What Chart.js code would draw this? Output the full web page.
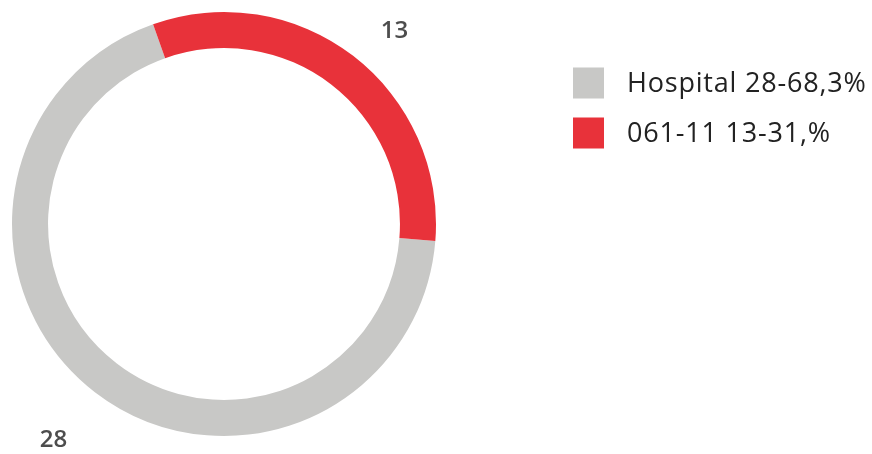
<!DOCTYPE html>
<html>
<head>
<meta charset="utf-8">
<script src="https://cdn.jsdelivr.net/npm/chart.js@4"></script>
<style>
  html, body { margin: 0; padding: 0; background: #ffffff; }
  #wrap { width: 872px; height: 454px; position: relative; }
</style>
</head>
<body>
<div id="wrap"><canvas id="chart" width="872" height="454"></canvas></div>
<script>
// Calls by origin
const categories = ['Hospital', '061-11'];
const counts = [28, 13];
const legendLabels = ['Hospital 28-68,3%', '061-11 13-31,%'];
const sliceColors = ['#c8c8c6', '#e8323a'];

// Value labels placed outside the ring, along each slice's middle angle
const outerLabels = {
  id: 'outerLabels',
  afterDatasetsDraw(chart) {
    const ctx = chart.ctx;
    const meta = chart.getDatasetMeta(0);
    ctx.save();
    ctx.font = '600 24px "Open Sans", sans-serif';
    ctx.fillStyle = '#4d4d4d';
    ctx.textAlign = 'center';
    ctx.textBaseline = 'middle';
    meta.data.forEach((arc, i) => {
      const p = arc.getProps(['x', 'y', 'startAngle', 'endAngle', 'outerRadius'], true);
      const mid = (p.startAngle + p.endAngle) / 2;
      const rx = p.outerRadius + 68;
      const ry = p.outerRadius + 62;
      const x = p.x + Math.cos(mid) * rx;
      let y = p.y + Math.sin(mid) * ry;
      y = Math.max(31, Math.min(chart.height - 14, y));
      ctx.fillText(String(counts[i]), x, y);
    });
    ctx.restore();
  }
};

// Legend on the right: colour squares with their captions
const sideLegend = {
  id: 'sideLegend',
  afterDraw(chart) {
    const ctx = chart.ctx;
    ctx.save();
    ctx.font = '27px "Open Sans", sans-serif';
    if ('letterSpacing' in ctx) ctx.letterSpacing = '0.8px';
    ctx.textBaseline = 'middle';
    ctx.textAlign = 'left';
    legendLabels.forEach((txt, i) => {
      const yc = 83 + i * 50;
      ctx.fillStyle = sliceColors[i];
      ctx.fillRect(573, yc - 15.5, 31, 31);
      ctx.fillStyle = '#222222';
      ctx.fillText(txt, 627, yc + 1);
    });
    ctx.restore();
  }
};

new Chart(document.getElementById('chart'), {
  type: 'doughnut',
  data: {
    labels: categories,
    datasets: [{
      data: counts,
      backgroundColor: sliceColors,
      borderWidth: 0
    }]
  },
  options: {
    responsive: false,
    animation: false,
    rotation: 94.6,
    cutout: '83%',
    layout: { padding: { left: 12, top: 12, right: 436, bottom: 18 } },
    plugins: {
      legend: { display: false },
      tooltip: { enabled: false }
    }
  },
  plugins: [outerLabels, sideLegend]
});
</script>
</body>
</html>
